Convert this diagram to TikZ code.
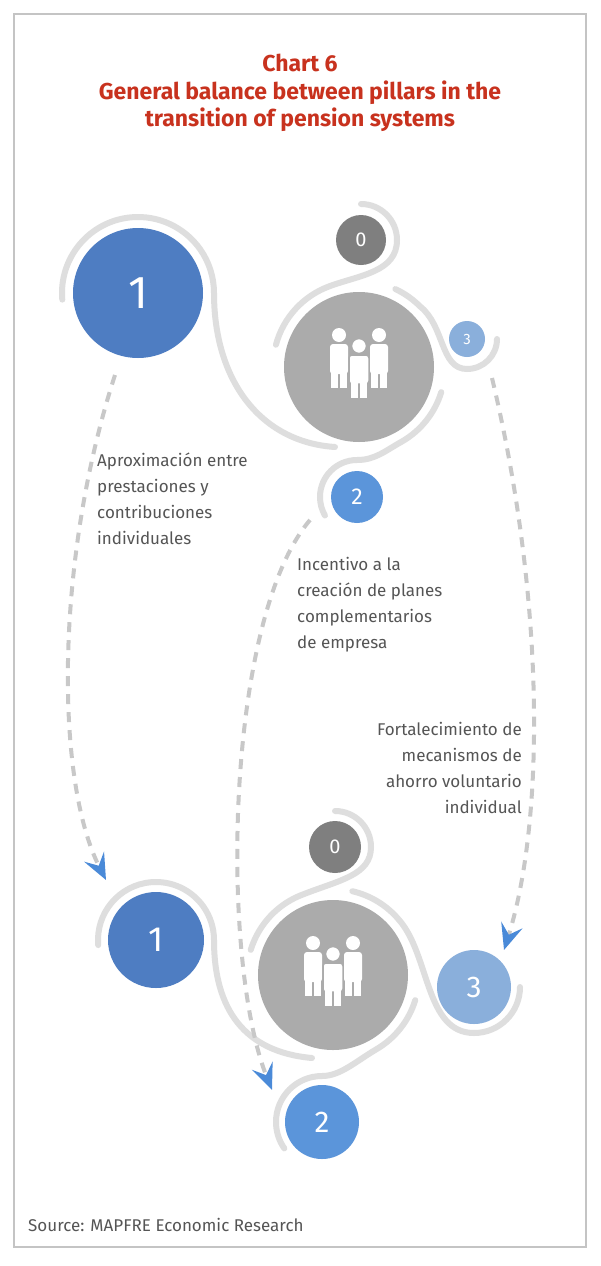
\documentclass[tikz,border=0pt]{standalone}
\usepackage{fontspec}
\setmainfont{Fira Sans}
\usetikzlibrary{arrows.meta}
\definecolor{tred}{HTML}{C8321E}
\definecolor{txt}{HTML}{555555}
\definecolor{bA}{HTML}{4E7DC2}
\definecolor{bB}{HTML}{5B95DA}
\definecolor{bC}{HTML}{8AAFDB}
\definecolor{gD}{HTML}{7F7F7F}
\definecolor{gB}{HTML}{ABABAB}
\definecolor{arcg}{HTML}{DEDEDE}
\definecolor{dashg}{HTML}{C8C8C8}
\definecolor{tipb}{HTML}{4A8AD8}
\tikzset{
  disc/.style={circle,inner sep=0pt,text=white},
  band/.style={draw=arcg,line width=6pt,line cap=round},
  flow/.style={draw=dashg,line width=4pt,dash pattern=on 10pt off 8pt,
    -{Stealth[color=tipb,length=26pt,width=22pt,inset=10pt]}},
  lbl/.style={text=txt,font=\fontsize{17}{26}\selectfont,inner sep=0pt},
}
\newcommand{\persons}[3]{% x y color
  \begin{scope}[shift={(#1,#2)}]
    \foreach \dx in {-20,20}{
      \fill[white] (\dx,-25) circle (7);
      \fill[white,rounded corners=3] (\dx-9,-16) rectangle (\dx+9,14);
      \fill[white] (\dx-8,12) rectangle (\dx-1,28);
      \fill[white] (\dx+1,12) rectangle (\dx+8,28);
    }
    \filldraw[white,draw=#3,line width=1.5pt] (0,-14) circle (7.5);
    \filldraw[white,draw=#3,line width=1.5pt,rounded corners=3] (-10,-5) rectangle (10,24);
    \fill[white] (-8,20) rectangle (-1,38);
    \fill[white] (1,20) rectangle (8,38);
  \end{scope}}
\begin{document}
\begin{tikzpicture}[x=1pt,y=-1pt]
\useasboundingbox (0,0) rectangle (600,1266);
\fill[white] (0,0) rectangle (600,1266);
\draw[draw=gB!70,line width=1.5pt] (14,14) rectangle (586,1247);
\node[text=tred,font=\bfseries\fontsize{23}{27.5}\selectfont,align=center] (title) at (300,93)
  {Chart 6\\General balance between pillars in the\\transition of pension systems};

% top group bands
\draw[band] (138,293) ++(175:76) arc[start angle=175,end angle=360,radius=76]
  .. controls (214,380) and (260,442) .. (335,447);
\draw[band] (359,367) ++(195:86) arc[start angle=195,end angle=250,radius=86]
  .. controls (360,275) and (397,272) .. (397,240)
  arc[start angle=360,end angle=270,radius=36];
\draw[band] (359,367) ++(-65:86) arc[start angle=-65,end angle=-45,radius=86]
  .. controls (445,326) and (440,369) .. (467,369)
  arc[start angle=90,end angle=0,radius=30];
\draw[band] (359,367) ++(17:86) arc[start angle=17,end angle=60,radius=86]
  .. controls (385,451) and (375,460) .. (357,460)
  arc[start angle=270,end angle=150,radius=37];

% bottom group bands
\draw[band] (156,940) ++(175:58) arc[start angle=175,end angle=360,radius=58]
  .. controls (214,1010) and (245,1052) .. (312,1058);
\draw[band] (333,975) ++(197:86) arc[start angle=197,end angle=250,radius=86]
  .. controls (340,880) and (371,875) .. (371,847)
  arc[start angle=360,end angle=270,radius=36];
\draw[band] (333,975) ++(-77:86) arc[start angle=-77,end angle=-40,radius=86]
  .. controls (430,955) and (425,1033) .. (474,1033)
  arc[start angle=90,end angle=0,radius=46];
\draw[band] (333,975) ++(17:86) arc[start angle=17,end angle=60,radius=86]
  .. controls (355,1062) and (340,1076) .. (322,1076)
  arc[start angle=270,end angle=145,radius=46];

% top discs
\node[disc,fill=bA,minimum size=130pt,font=\fontsize{46}{46}\selectfont] (t1) at (138,293) {1};
\node[disc,fill=gD,minimum size=50pt,font=\fontsize{20}{20}\selectfont] (t0) at (361,240) {0};
\node[disc,fill=gB,minimum size=150pt] (tb) at (359,367) {};
\node[disc,fill=bC,minimum size=36pt,font=\fontsize{15}{15}\selectfont] (t3) at (467,339) {3};
\node[disc,fill=bB,minimum size=52pt,font=\fontsize{23}{23}\selectfont] (t2) at (357,497) {2};
\persons{359}{360}{gB}

% bottom discs
\node[disc,fill=bA,minimum size=96pt,font=\fontsize{35}{35}\selectfont] (b1) at (156,940) {1};
\node[disc,fill=gD,minimum size=52pt,font=\fontsize{20}{20}\selectfont] (b0) at (335,847) {0};
\node[disc,fill=gB,minimum size=150pt] (bb) at (333,975) {};
\node[disc,fill=bC,minimum size=74pt,font=\fontsize{30}{30}\selectfont] (b3) at (474,987) {3};
\node[disc,fill=bB,minimum size=74pt,font=\fontsize{30}{30}\selectfont] (b2) at (322,1122) {2};
\persons{333}{968}{gB}

% labels
\node[lbl,anchor=north west,align=left] (l1) at (97,453)
  {Aproximación entre\\prestaciones y\\contribuciones\\individuales};
\node[lbl,anchor=north west,align=left] (l2) at (297,557)
  {Incentivo a la\\creación de planes\\complementarios\\de empresa};
\node[lbl,anchor=north east,align=right] (l3) at (522,722)
  {Fortalecimiento de\\mecanismos de\\ahorro voluntario\\individual};

% dashed arrows
\coordinate (s1) at (115,375);
\coordinate (s2) at (310,520);
\coordinate (s3) at (492,378);
\coordinate (e1) at (106,880);
\coordinate (e2) at (272,1090);
\coordinate (e3) at (504,950);
\draw[flow] (s1) .. controls (55,560) and (55,780) .. (e1);
\draw[flow] (s2) .. controls (225,620) and (220,960) .. (e2);
\draw[flow] (s3) .. controls (545,600) and (545,820) .. (e3);

\node[text=txt,font=\fontsize{17}{17}\selectfont,anchor=west,inner sep=0pt] (src) at (28,1225)
  {Source: MAPFRE Economic Research};
\end{tikzpicture}
\end{document}
